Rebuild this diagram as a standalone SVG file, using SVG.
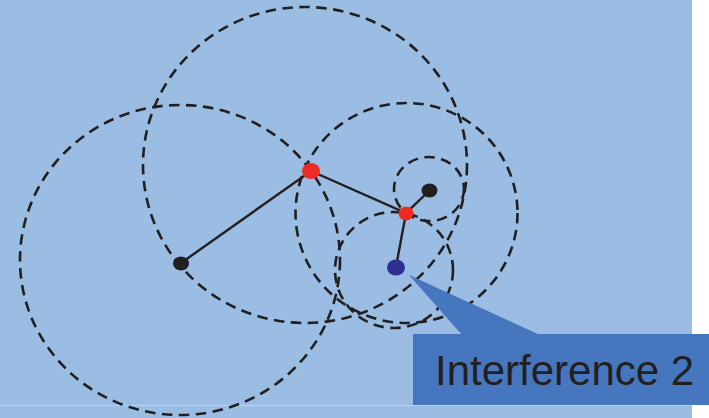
<svg xmlns="http://www.w3.org/2000/svg" width="709" height="418" viewBox="0 0 709 418">
<style>
.ring{fill:none;stroke:#231F20;stroke-width:2.6;stroke-dasharray:10.5 6.5}
.link{fill:none;stroke:#231F20;stroke-width:2.4}
.label{font-family:"Liberation Sans",Arial,sans-serif;font-size:42px;fill:#231F20}
</style>
<rect x="0" y="0" width="709" height="418" fill="#FFFFFF"/>
<rect x="0" y="0" width="692" height="418" fill="#9BBDE3"/>
<line x1="0" y1="405.5" x2="692" y2="405.5" stroke="#BCD2EC" stroke-width="1"/>
<g id="ranges">
<ellipse class="ring" cx="180" cy="260" rx="160" ry="155"/>
<ellipse class="ring" cx="305" cy="165" rx="162" ry="158"/>
<ellipse class="ring" cx="406.5" cy="213" rx="111" ry="110"/>
<ellipse class="ring" cx="429" cy="189" rx="35" ry="32"/>
<ellipse class="ring" cx="394" cy="270" rx="59" ry="58"/>
</g>
<g id="connectors">
<polyline class="link" points="181,263 311,171 406,213 429,191"/>
<line class="link" x1="406" y1="213" x2="396" y2="267"/>
</g>
<g id="node-a"><ellipse cx="181" cy="263.5" rx="8" ry="7" fill="#231F20"/></g>
<g id="node-b"><ellipse cx="311" cy="171" rx="9" ry="8" fill="#EE2A24"/></g>
<g id="node-c"><ellipse cx="406" cy="213.5" rx="7.5" ry="7" fill="#EE2A24"/></g>
<g id="node-d"><ellipse cx="429.5" cy="190.5" rx="8" ry="7" fill="#231F20"/></g>
<g id="node-e"><ellipse cx="396" cy="267.5" rx="9" ry="8" fill="#2E3192"/></g>
<g id="callout">
<polygon points="409,275 462,335 540,335" fill="#4677BE"/>
<rect x="413" y="334" width="296" height="71" fill="#4677BE"/>
<text class="label" x="435" y="385">Interference 2</text>
</g>
</svg>
